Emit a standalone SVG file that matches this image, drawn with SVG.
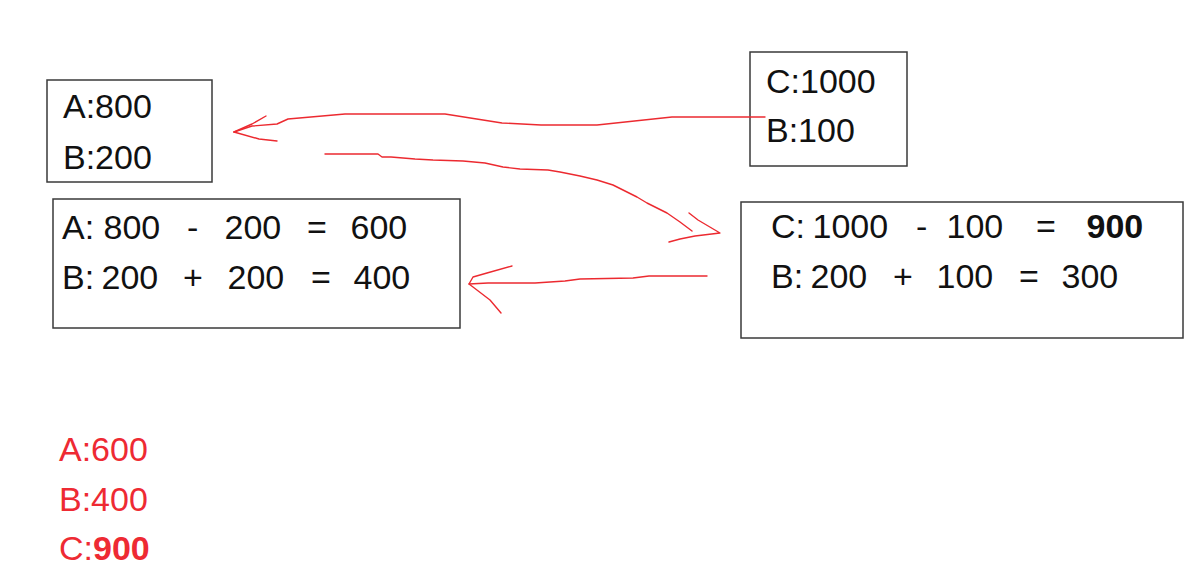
<svg xmlns="http://www.w3.org/2000/svg" width="1193" height="570" viewBox="0 0 1193 570">
<style>
.box{fill:#fff;stroke:#3a3a3a;stroke-width:1.5}
.t{font-family:"Liberation Sans",Arial,sans-serif;font-size:34px;fill:#111}
.r{font-family:"Liberation Sans",Arial,sans-serif;font-size:34px;fill:#ee2a33}
.b{font-weight:bold}
.c{fill:none;stroke:#ec2a30;stroke-width:1.4;stroke-linejoin:round;stroke-linecap:round}
</style>
<rect width="1193" height="570" fill="#fff"/>
<g id="node-ab-initial">
<rect class="box" x="47" y="80" width="165" height="102"/>
<text class="t" x="63" y="118">A:800</text>
<text class="t" x="63" y="169">B:200</text>
</g>
<g id="node-cb-initial">
<rect class="box" x="750" y="52" width="157" height="114"/>
<text class="t" x="766" y="93">C:1000</text>
<text class="t" x="766" y="142">B:100</text>
</g>
<g id="node-ab-calc">
<rect class="box" x="53" y="199" width="407" height="129"/>
<text class="t" y="239"><tspan x="62">A:</tspan><tspan x="103.5">800</tspan><tspan x="187">-</tspan><tspan x="224.5">200</tspan><tspan x="307">=</tspan><tspan x="350.5">600</tspan></text>
<text class="t" y="289"><tspan x="62">B:</tspan><tspan x="101.5">200</tspan><tspan x="183">+</tspan><tspan x="227.5">200</tspan><tspan x="311">=</tspan><tspan x="353.5">400</tspan></text>
</g>
<g id="node-cb-calc">
<rect class="box" x="741" y="202" width="442" height="136"/>
<text class="t" y="238"><tspan x="771">C:</tspan><tspan x="812.5">1000</tspan><tspan x="916">-</tspan><tspan x="946.5">100</tspan><tspan x="1036">=</tspan><tspan class="b" x="1086.5">900</tspan></text>
<text class="t" y="288"><tspan x="771">B:</tspan><tspan x="810.5">200</tspan><tspan x="893">+</tspan><tspan x="936.5">100</tspan><tspan x="1019">=</tspan><tspan x="1061.5">300</tspan></text>
</g>
<g id="node-result">
<text class="r" x="59" y="461">A:600</text>
<text class="r" x="59" y="511">B:400</text>
<text class="r" y="560"><tspan x="59">C:</tspan><tspan class="b" x="93">900</tspan></text>
</g>
<g id="connectors">
<path class="c" d="M765 117 L672 117 L597 125 L541 125 L502 123 L445 114 L345 114 L288 119 L277 124 L252 126 L234 132"/>
<path class="c" d="M234 132 L252 124 L266 116"/>
<path class="c" d="M234 132 L259 139 L277 141"/>
<path class="c" d="M325 154 L378 154 L382 157 L391 157 L415 159 L433 160 L463 161 L485 163 L503 167 L520 169 L548 170 L560 172 L580 176 L597 180 L613 185 L637 197 L647 203 L667 213 L680 222 L692 231"/>
<path class="c" d="M689 213 L698 220 L720 233 L695 236 L680 239 L669 242"/>
<path class="c" d="M707 276 L649 276 L633 278 L580 279 L565 281 L535 283 L488 283 L469 284"/>
<path class="c" d="M512 266 L487 273 L473 277 L469 284 L473 287 L490 300 L501 313"/>
</g>
</svg>
